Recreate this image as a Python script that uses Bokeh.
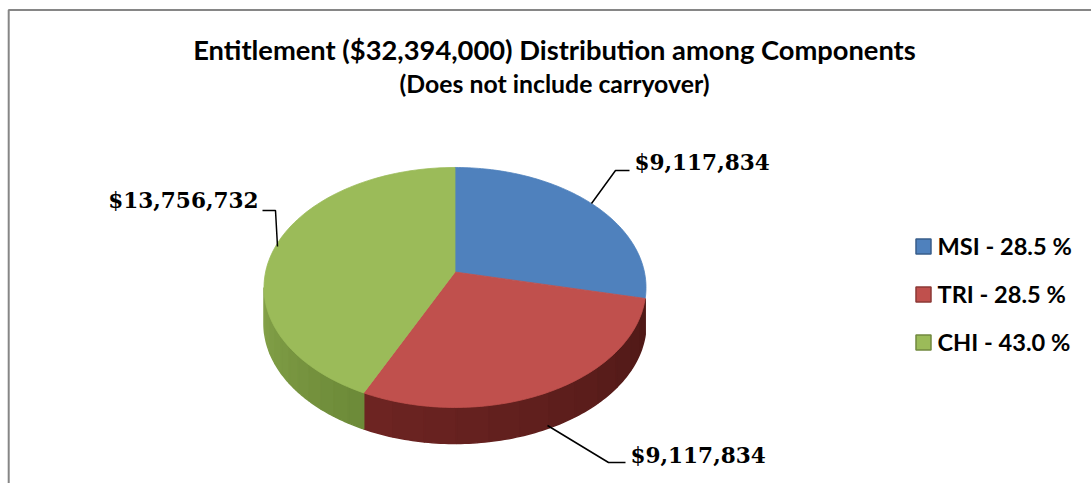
import math
from bokeh.plotting import figure
from bokeh.embed import file_html
from bokeh.resources import INLINE
from bokeh.core.properties import value

categories = ["MSI", "TRI", "CHI"]
amounts = [9117834, 9117834, 13756732]
percent_labels = ["28.5", "28.5", "43.0"]
amount_labels = ["$9,117,834", "$9,117,834", "$13,756,732"]
title_lines = ["Entitlement ($32,394,000) Distribution among Components",
               "(Does not include carryover)"]
colors = ["#4F81BD", "#C0504D", "#9BBB59"]
side_colors = [None, ("#6e2523", "#4f1816"), ("#86a34a", "#6c8a38")]

W, H = 1091, 483
CX, CY = 454.5, 271.5   # apex of the pie on the page
RX, BY, K = 189.4, 118.0, 0.129  # perspective tilt
DEPTH = 36.0
SERIF = "DejaVu Serif"
SANS = "Lato"


def project(a):
    X, Y = math.cos(a), math.sin(a)
    w = 1 + K * Y
    return CX + RX * X / w, CY - BY * Y / w


def arc(a0, a1, n=90):
    return [a0 + (a1 - a0) * i / n for i in range(n + 1)]


def mix(c0, c1, t):
    a = [int(c0[i:i + 2], 16) for i in (1, 3, 5)]
    b = [int(c1[i:i + 2], 16) for i in (1, 3, 5)]
    return "#%02x%02x%02x" % tuple(round(a[i] + (b[i] - a[i]) * t) for i in range(3))


p = figure(width=W, height=H, x_range=(0, W), y_range=(H, 0),
           output_backend="svg", toolbar_location=None,
           min_border=0, outline_line_color=None, background_fill_color="white")
p.axis.visible = False
p.grid.visible = False

# chart frame
p.line([8.2, 8.2, 1091], [483, 9.5, 9.5], line_color="#868686", line_width=2)

total = sum(amounts)
start = math.pi / 2
spans = []
for v in amounts:
    end = start - 2 * math.pi * v / total
    spans.append((start, end))
    start = end

# side wall (front half only)
for (a0, a1), side in zip(spans, side_colors):
    if side is None:
        continue
    c0, c1 = side
    lo = max(a1, -math.pi + 0.129)
    hi = a0
    n = 12
    for i in range(n):
        s0 = lo + (hi - lo) * i / n
        s1 = lo + (hi - lo) * (i + 1) / n
        pts = [project(a) for a in arc(s0, s1, 8)]
        xs = [q[0] for q in pts] + [q[0] for q in reversed(pts)]
        ys = [q[1] for q in pts] + [q[1] + DEPTH for q in reversed(pts)]
        col = mix(c0, c1, (i + 0.5) / n)
        p.patch(xs, ys, fill_color=col, line_color=col, line_width=1.5)

# top faces
for (a0, a1), col in zip(spans, colors):
    pts = [project(a) for a in arc(a0, a1)]
    xs = [CX] + [q[0] for q in pts]
    ys = [CY] + [q[1] for q in pts]
    p.patch(xs, ys, fill_color=col, line_color=col, line_width=0.8)

# leader lines
p.line([591, 615, 629], [203, 170, 170], line_color="black", line_width=1.5)
p.line([262, 275, 277], [210, 210, 246], line_color="black", line_width=1.5)
p.line([547, 608, 625], [425, 462, 462], line_color="black", line_width=1.5)

# amount labels
p.text([634, 630], [161.5, 454.5], text=[amount_labels[0], amount_labels[1]],
       text_font=value(SERIF), text_font_style="bold", text_font_size="21.6px",
       text_align="left", text_baseline="middle", text_color="black")
p.text([258], [199.5], text=[amount_labels[2]],
       text_font=value(SERIF), text_font_style="bold", text_font_size="21.6px",
       text_align="right", text_baseline="middle", text_color="black")

# title
p.text([554], [48.5], text=[title_lines[0]], text_font=value(SANS), text_font_style="bold",
       text_font_size="27.3px", text_align="center", text_baseline="middle", text_color="black")
p.text([554], [82.5], text=[title_lines[1]], text_font=value(SANS), text_font_style="bold",
       text_font_size="24.8px", text_align="center", text_baseline="middle", text_color="black")

# legend
ly = [246, 294, 342]
p.rect([923] * 3, ly, width=15, height=15, fill_color=colors,
       line_color=["#385d8a", "#8c3836", "#71893f"], line_width=1.5)
p.text([937] * 3, [y - 0.5 for y in ly],
       text=[f"{c} - {t} %" for c, t in zip(categories, percent_labels)],
       text_font=value(SANS), text_font_style="bold", text_font_size="23.6px",
       text_align="left", text_baseline="middle", text_color="black")

open("out.html", "w").write(file_html(p, INLINE))
